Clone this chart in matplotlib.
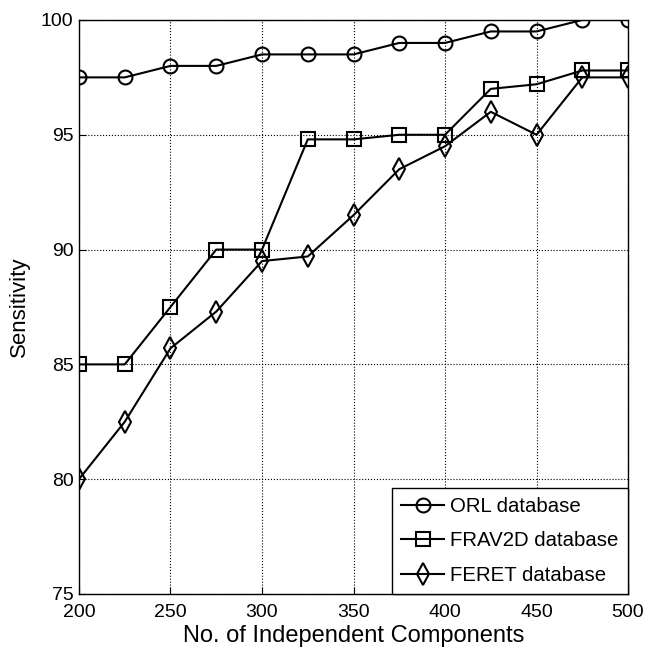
import numpy as np
import matplotlib.pyplot as plt

plt.rcParams['font.family'] = ['Liberation Sans', 'DejaVu Sans']

n_components = [200, 225, 250, 275, 300, 325, 350, 375, 400, 425, 450, 475, 500]
orl = [97.5, 97.5, 98.0, 98.0, 98.5, 98.5, 98.5, 99.0, 99.0, 99.5, 99.5, 100.0, 100.0]
frav2d = [85.0, 85.0, 87.5, 90.0, 90.0, 94.8, 94.8, 95.0, 95.0, 97.0, 97.2, 97.8, 97.8]
feret = [80.0, 82.5, 85.7, 87.3, 89.5, 89.7, 91.5, 93.5, 94.5, 96.0, 95.0, 97.5, 97.5]

fig = plt.figure(figsize=(6.49, 6.57), dpi=100)
ax = fig.add_axes([0.1217, 0.0959, 0.846, 0.8737])

style = dict(color='k', lw=1.5, markerfacecolor='none', markeredgecolor='k', markeredgewidth=1.5)
ax.plot(n_components, orl, marker='o', markersize=10, label='ORL database', **style)
ax.plot(n_components, frav2d, marker='s', markersize=10, label='FRAV2D database', **style)
ax.plot(n_components, feret, marker='d', markersize=11, label='FERET database', **style)

ax.set_xlim(200, 500)
ax.set_ylim(75, 100)
ax.set_xticks(np.arange(200, 501, 50))
ax.set_yticks(np.arange(75, 101, 5))
ax.grid(True, linestyle=':', color='k', lw=0.8)
ax.tick_params(direction='in', labelsize=14, length=5)
ax.tick_params(axis='x', pad=7)
ax.tick_params(axis='y', pad=4)
for s in ax.spines.values():
    s.set_linewidth(1.0)

ax.set_xlabel('No. of Independent Components', fontsize=17, labelpad=3)
ax.set_ylabel('Sensitivity', fontsize=16, labelpad=8)

leg = ax.legend(loc='lower right', fontsize=14.7, fancybox=False, borderaxespad=0,
                edgecolor='k', framealpha=1, handlelength=2.1, handletextpad=0.3,
                labelspacing=0.75, borderpad=0.45)
leg.get_frame().set_linewidth(1.0)

fig.savefig('out.png', dpi=100)
